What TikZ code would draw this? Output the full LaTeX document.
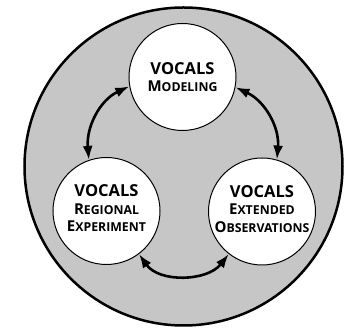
\documentclass[tikz,border=0pt]{standalone}
\usepackage{fontspec}
\setmainfont{Open Sans}
\usetikzlibrary{arrows.meta}
\newcommand{\bigcaps}{\fontsize{16.5}{17.5}\selectfont}
\newcommand{\smcaps}[2]{{\fontsize{15}{17.5}\selectfont #1}{\fontsize{12.3}{17.5}\selectfont #2}}
\tikzset{
  bubble/.style={circle,draw=black,line width=1pt,fill=white,minimum size=107pt,inner sep=0pt},
  title/.style={align=center,font=\bfseries\bigcaps,inner sep=0pt},
  link/.style={line width=2.6pt,{Latex[length=14pt,width=10pt]}-{Latex[length=14pt,width=10pt]}},
}
\begin{document}
\begin{tikzpicture}[x=1pt,y=1pt]
	\useasboundingbox (0,0) rectangle (349,331);
	% outer disc
	\node[circle,draw=black,line width=2.5pt,fill=gray!45,minimum size=318pt] (ring) at (183.5,164.5) {};
	% the three parts
	\node[bubble] (model) at (182.5,254) {};
	\node[bubble] (regional) at (106.5,120) {};
	\node[bubble] (extended) at (262,119.5) {};
	\node[title] (model-text) at (model.center) {VOCALS\\\smcaps{M}{ODELING}};
	\node[title] (regional-text) at ([yshift=2.5pt]regional.center) {VOCALS\\\smcaps{R}{EGIONAL}\\\smcaps{E}{XPERIMENT}};
	\node[title] (extended-text) at ([yshift=2.5pt]extended.center) {VOCALS\\\smcaps{E}{XTENDED}\\\smcaps{O}{BSERVATIONS}};
	% links
	\draw[link] (model.190) to[out=205,in=95] (regional.109);
	\draw[link] (model.349) to[out=-25,in=85] (extended.74);
	\draw[link] (regional.307) to[out=-55,in=232] (extended.232);
\end{tikzpicture}
\end{document}
